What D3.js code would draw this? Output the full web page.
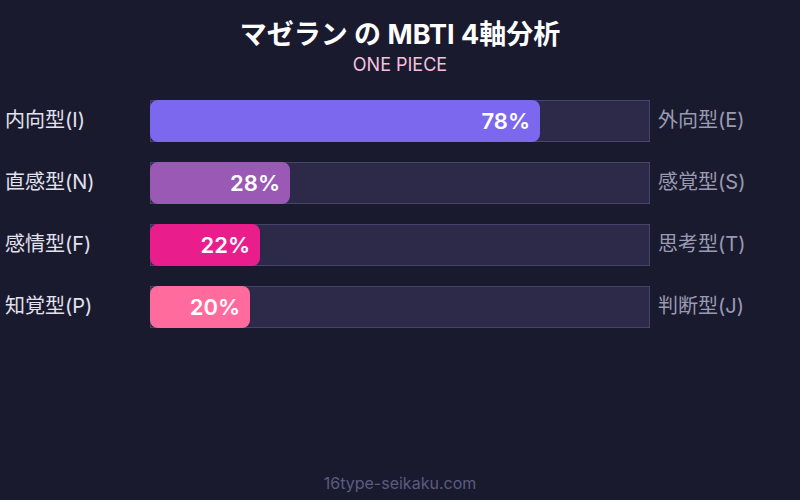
<!DOCTYPE html>
<html>
<head>
<meta charset="utf-8">
<script src="https://cdn.jsdelivr.net/npm/d3@7"></script>
<style>
  html, body { margin: 0; padding: 0; background: #1a1a2e; }
  svg { display: block; font-family: Inter, "Noto Sans CJK JP", sans-serif; }
</style>
</head>
<body>
<div id="chart"></div>
<script>
const leftLabels = ["内向型(I)", "直感型(N)", "感情型(F)", "知覚型(P)"];
const rightLabels = ["外向型(E)", "感覚型(S)", "思考型(T)", "判断型(J)"];
const values = [78, 28, 22, 20];
const barColors = ["#7b68ee", "#9b59b6", "#e91e8c", "#ff6b9d"];

const W = 800, H = 500;
const svg = d3.select("#chart").append("svg")
    .attr("width", W).attr("height", H)
    .attr("viewBox", `0 0 ${W} ${H}`);

svg.append("rect").attr("width", W).attr("height", H).attr("fill", "#1a1a2e");

// title + subtitle
svg.append("text")
    .attr("x", W / 2).attr("y", 44)
    .attr("text-anchor", "middle")
    .attr("fill", "#ffffff")
    .style("font-size", "27px").style("font-weight", "bold")
    .text("マゼラン の MBTI 4軸分析");
svg.append("text")
    .attr("x", W / 2).attr("y", 71)
    .attr("text-anchor", "middle")
    .attr("fill", "#f4c2de")
    .style("font-size", "18px")
    .text("ONE PIECE");

const x = d3.scaleLinear().domain([0, 100]).range([150, 650]);
const y = d3.scaleBand().domain(d3.range(values.length)).range([100, 328]).paddingInner(20 / 62).paddingOuter(0);

const rows = svg.append("g").selectAll("g")
    .data(values.map((v, i) => ({v, i})))
    .join("g");

// background track
rows.append("rect")
    .attr("x", x(0) + 0.5)
    .attr("y", d => y(d.i) + 0.5)
    .attr("width", x(100) - x(0) - 1)
    .attr("height", y.bandwidth() - 1)
    .attr("fill", "#2c2a48")
    .attr("stroke", "#45446a")
    .attr("stroke-width", 1);

// filled bar
rows.append("rect")
    .attr("x", x(0))
    .attr("y", d => y(d.i))
    .attr("width", d => x(d.v) - x(0))
    .attr("height", y.bandwidth())
    .attr("rx", 8)
    .attr("fill", d => barColors[d.i]);

// value label
rows.append("text")
    .attr("x", d => x(d.v) - 10)
    .attr("y", d => y(d.i) + y.bandwidth() / 2 + 8)
    .attr("text-anchor", "end")
    .attr("fill", "#ffffff")
    .style("font-size", "22px").style("font-weight", "600")
    .text(d => d.v + "%");

rows.append("text")
    .attr("x", 5)
    .attr("y", d => y(d.i) + y.bandwidth() / 2 + 6)
    .attr("fill", "#e2e2f0")
    .style("font-size", "20px")
    .text(d => leftLabels[d.i]);

rows.append("text")
    .attr("x", 658)
    .attr("y", d => y(d.i) + y.bandwidth() / 2 + 6)
    .attr("fill", "#9a9ab2")
    .style("font-size", "20px")
    .text(d => rightLabels[d.i]);

svg.append("text")
    .attr("x", W / 2).attr("y", 489)
    .attr("text-anchor", "middle")
    .attr("fill", "#5c5c7e")
    .style("font-size", "16px")
    .text("16type-seikaku.com");
</script>
</body>
</html>
